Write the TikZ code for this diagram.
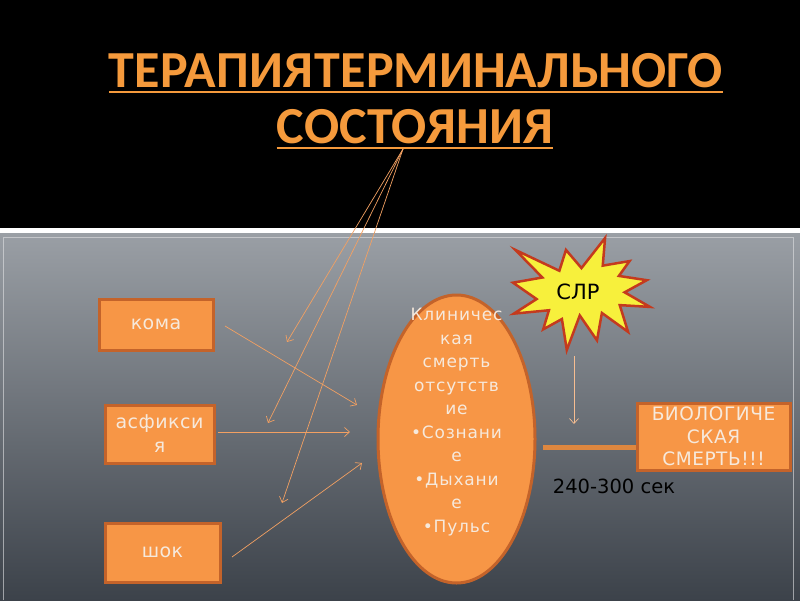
\documentclass[tikz,border=0pt]{standalone}
\usepackage{fontspec}
\setmainfont{DejaVu Sans}
\newfontfamily\titlefont{Carlito}
\newfontfamily\boxfont{DejaVu Sans}[LetterSpace=2.5]
\newfontfamily\ellfont{DejaVu Sans}[LetterSpace=5]
\newfontfamily\biofont{DejaVu Sans}[LetterSpace=3]
\usetikzlibrary{arrows.meta,shapes.geometric}
\definecolor{ttl}{HTML}{F59A3C}
\definecolor{org}{HTML}{F79646}
\definecolor{orgdark}{HTML}{C4632A}
\definecolor{txt}{HTML}{F6E9DC}
\definecolor{thin}{HTML}{F2A062}
\definecolor{staryel}{HTML}{F7F03C}
\definecolor{starred}{HTML}{C43A1E}
\definecolor{paneltop}{HTML}{9A9FA5}
\definecolor{panelbot}{HTML}{3C424A}
\begin{document}
\begin{tikzpicture}[x=1pt,y=-1pt,
  box/.style={draw=orgdark,line width=3pt,fill=org,text=txt,inner sep=0pt,align=center,
    font=\boxfont\fontsize{19}{24}\selectfont},
  fanline/.style={draw=thin,line width=0.7pt,-{Straight Barb[length=5pt,width=9pt]}},
  titletext/.style={text=ttl,inner sep=0pt,anchor=base,font=\titlefont\bfseries\fontsize{52}{52}\selectfont},
  uline/.style={draw=ttl,line width=2.5pt}]
\useasboundingbox (0,0) rectangle (800,600);
% backgrounds
\fill[black] (0,0) rectangle (800,228);
\fill[white] (0,228) rectangle (800,233);
\shade[top color=paneltop,bottom color=panelbot] (0,233) rectangle (800,600);
\draw[white!70!paneltop,opacity=0.6,line width=0.6pt] (3,600) -- (3,237) -- (793,237) -- (793,600);
% title
\node[titletext] (title1) at (416,87) {ТЕРАПИЯ\hspace{0.04em}ТЕРМИНАЛЬНОГО};
\node[titletext] (title2) at (415,143) {СОСТОЯНИЯ};
\draw[uline] ([yshift=-5pt]title1.base west) -- ([yshift=-5pt]title1.base east);
\draw[uline] ([yshift=-5pt]title2.base west) -- ([yshift=-5pt]title2.base east);
\coordinate (fan) at (403,149);
% boxes
\node[box,minimum width=114pt,minimum height=51pt] (koma) at (156,324.5) {кома};
\node[box,minimum width=109pt,minimum height=58pt] (asf) at (159.5,434) {асфикси\\я};
\node[box,minimum width=115pt,minimum height=59pt] (shok) at (162.5,552.5) {шок};
\node[box,minimum width=153pt,minimum height=67pt,font=\biofont\fontsize{18.5}{22.5}\selectfont] (bio) at (713.5,436.5) {БИОЛОГИЧЕ\\СКАЯ\\СМЕРТЬ!!!};
% ellipse
\node[ellipse,draw=orgdark,line width=3pt,fill=org,minimum width=157pt,minimum height=288pt,inner sep=0pt] (ell) at (456.5,439) {};
\node[text=txt,align=center,inner sep=0pt,font=\ellfont\fontsize{17}{23.5}\selectfont] (elltxt) at (456.5,422)
  {Клиничес\\кая\\смерть\\отсутств\\ие\\•Сознани\\е\\•Дыхани\\е\\•Пульс};
% star
\begin{scope}[shift={(513,238)},x=0.634pt,y=-0.5185pt]
\draw[draw=starred,fill=staryel,line width=2.5pt,line join=miter]
 (108,58) -- (145.22,0) -- (141.55,53.25) -- (183.8,44.57) -- (167.02,73.15) -- (210.97,81.37)
 -- (176.07,104.75) -- (216,132.9) -- (168.37,129.42) -- (181.45,180.95) -- (140.2,144.57)
 -- (132.47,197.37) -- (105.32,149.35) -- (84.85,216) -- (77.15,156.27) -- (47.62,176.17)
 -- (56.67,139.37) -- (1.35,145.87) -- (37.22,117.75) -- (0,86.15) -- (46.27,76.17)
 -- (3.7,22.95) -- (73.12,63.2) -- (83.52,22.95) -- cycle;
\end{scope}
\node[font=\fontsize{21}{24}\selectfont,text=black,inner sep=0pt] (slr) at (578,292) {СЛР};
% label
\node[font=\fontsize{19.5}{24}\selectfont,text=black,inner sep=0pt] (time) at (614,486) {240-300 сек};
% connectors
\coordinate (k1) at (225,326); \coordinate (k2) at (357,405);
\coordinate (a1) at (218,432); \coordinate (a2) at (350,432);
\coordinate (h1) at (232,557); \coordinate (h2) at (362,463);
\coordinate (f1) at (287,342); \coordinate (f2) at (268,423); \coordinate (f3) at (282,503);
\coordinate (s1) at (574,356); \coordinate (s2) at (574,424);
\coordinate (e1) at (543,447);
\draw[fanline] (fan) -- (f1);
\draw[fanline] (fan) -- (f2);
\draw[fanline] (fan) -- (f3);
\draw[fanline] (k1) -- (k2);
\draw[fanline] (a1) -- (a2);
\draw[fanline] (h1) -- (h2);
\draw[fanline,draw=thin!70!white] (s1) -- (s2);
\draw[draw=org!90!black,line width=5pt] (e1) -- (e1 -| bio.west);
\end{tikzpicture}
\end{document}
